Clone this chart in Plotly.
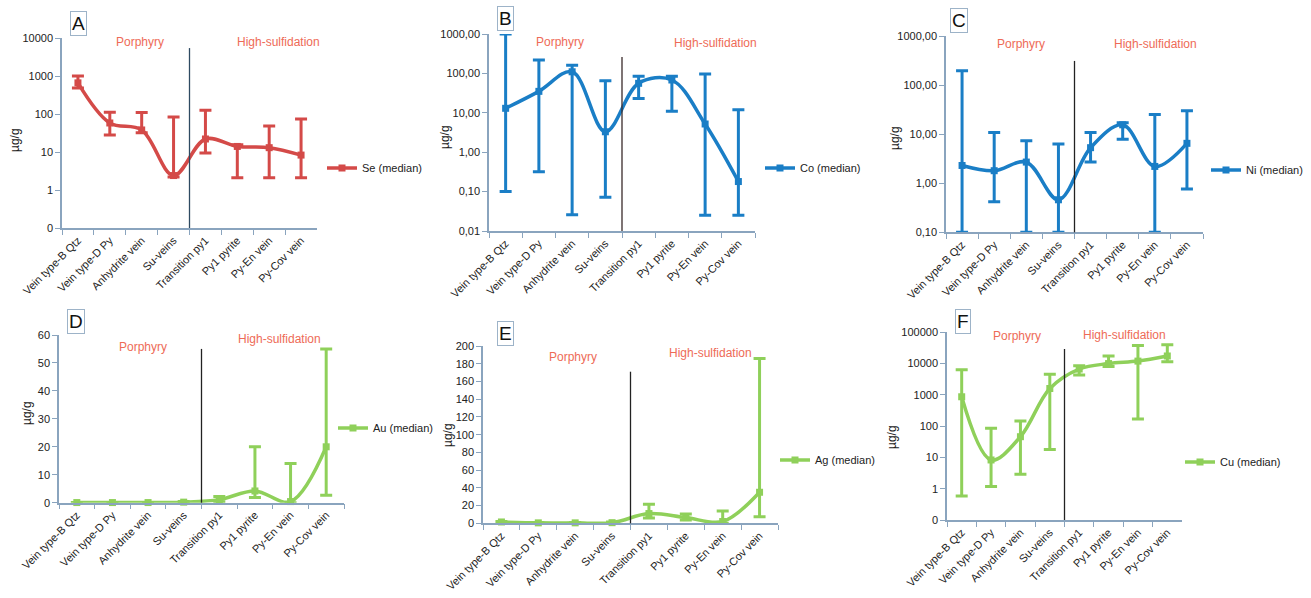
import plotly.graph_objects as go

W, H = 1311, 598

categories = ["Vein type-B Qtz", "Vein type-D Py", "Anhydrite vein", "Su-veins",
              "Transition py1", "Py1 pyrite", "Py-En vein", "Py-Cov vein"]

# Se (panel A)
se_median = [660, 58, 38, 2.4, 22, 14, 13, 8.3]
se_high = [1000, 112, 110, 83, 125, 15.6, 48, 74]
se_low = [480, 28, 32, 2.2, 9.4, 2.1, 2.1, 2.1]

# Co (panel B)
co_median = [13, 35, 110, 3.3, 56, 68, 5.2, 0.18]
co_high = [1000, 220, 160, 65, 85, 85, 96, 12]
co_low = [0.1, 0.32, 0.026, 0.072, 23, 11, 0.025, 0.025]

# Ni (panel C)
ni_median = [2.3, 1.8, 2.7, 0.46, 5.3, 15.5, 2.2, 6.5]
ni_high = [195, 10.8, 7.3, 6.3, 10.8, 17, 25, 30]
ni_low = [0.1, 0.42, 0.1, 0.1, 2.7, 7.9, 0.1, 0.76]

# Au (panel D)
au_median = [0.05, 0.05, 0.05, 0.2, 1.1, 4.2, 0.4, 20]
au_high = [0.1, 0.1, 0.1, 0.4, 2.2, 20, 14, 55]
au_low = [0, 0, 0, 0, 0.3, 1.9, 0, 2.7]

# Ag (panel E)
ag_median = [1.5, 0.5, 0.5, 0.7, 11, 6.5, 2, 35]
ag_high = [2, 1, 1, 1.5, 21.5, 10.5, 14, 186]
ag_low = [0.5, 0.2, 0.2, 0.2, 6, 3.8, 0, 7.5]

# Cu (panel F)
cu_median = [870, 8.3, 46, 1600, 6700, 10000, 12000, 17500]
cu_high = [6300, 85, 146, 4600, 8600, 17500, 38000, 40000]
cu_low = [0.59, 1.17, 2.9, 18, 4300, 8000, 170, 11500]

log_ticks_A = [0.1, 1, 10, 100, 1000, 10000]
log_text_A = ["0", "1", "10", "100", "1000", "10000"]
log_ticks_B = [0.01, 0.1, 1, 10, 100, 1000]
log_text_B = ["0,01", "0,10", "1,00", "10,00", "100,00", "1000,00"]
log_ticks_C = [0.1, 1, 10, 100, 1000]
log_text_C = ["0,10", "1,00", "10,00", "100,00", "1000,00"]
log_ticks_F = [0.1, 1, 10, 100, 1000, 10000, 100000]
log_text_F = ["0", "1", "10", "100", "1000", "10000", "100000"]

RED = "#D44A48"
BLUE = "#1A7EC6"
GREEN = "#8FD05A"
SALMON = "#EE6B57"
AXIS = "#8AA4BE"
FONT = "Liberation Sans"

panels = [
    dict(letter="A", name="Se (median)", med=se_median, hi=se_high, lo=se_low, color=RED,
         px=(62, 317), py=(38, 228), ytype="log", yrange=(-1, 4), tv=log_ticks_A, tt=log_text_A,
         vtop=0.947, vcol="#2E4A62", box=(78, 24), ytitle=(15, 140),
         por=(140, 42), hs=(278, 42), leg=(322, 168)),
    dict(letter="B", name="Co (median)", med=co_median, hi=co_high, lo=co_low, color=BLUE,
         px=(489, 755), py=(34, 231), ytype="log", yrange=(-2, 3), tv=log_ticks_B, tt=log_text_B,
         vtop=0.883, vcol="#3A2A2A", box=(505, 19), ytitle=(445, 137),
         por=(560, 42), hs=(715, 43), leg=(760, 168)),
    dict(letter="C", name="Ni (median)", med=ni_median, hi=ni_high, lo=ni_low, color=BLUE,
         px=(946, 1203), py=(36, 232.3), ytype="log", yrange=(-1, 3), tv=log_ticks_C, tt=log_text_C,
         vtop=0.873, vcol="#222222", box=(959, 21), ytitle=(895, 138),
         por=(1021, 44), hs=(1155, 44), leg=(1206, 170)),
    dict(letter="D", name="Au (median)", med=au_median, hi=au_high, lo=au_low, color=GREEN,
         px=(59, 344), py=(335, 502.7), ytype="linear", yrange=(0, 60), tv=list(range(0, 61, 10)),
         tt=[str(v) for v in range(0, 61, 10)],
         vtop=0.917, vcol="#222222", box=(76, 321), ytitle=(27, 413),
         por=(143, 347), hs=(279, 339), leg=(333, 428)),
    dict(letter="E", name="Ag (median)", med=ag_median, hi=ag_high, lo=ag_low, color=GREEN,
         px=(483, 778), py=(346, 523.3), ytype="linear", yrange=(0, 200), tv=list(range(0, 201, 20)),
         tt=[str(v) for v in range(0, 201, 20)],
         vtop=0.855, vcol="#222222", box=(505, 333), ytitle=(448, 435),
         por=(573, 357), hs=(710, 353), leg=(775, 460)),
    dict(letter="F", name="Cu (median)", med=cu_median, hi=cu_high, lo=cu_low, color=GREEN,
         px=(947, 1182), py=(332.3, 520), ytype="log", yrange=(-1, 5), tv=log_ticks_F, tt=log_text_F,
         vtop=0.911, vcol="#222222", box=(963, 321), ytitle=(892, 437),
         por=(1017, 336), hs=(1124, 335), leg=(1180, 462)),
]

fig = go.Figure()
layout = dict(width=W, height=H, margin=dict(l=0, r=0, t=0, b=0, autoexpand=False),
              plot_bgcolor="white", paper_bgcolor="white", showlegend=True,
              font=dict(family=FONT, size=11, color="#222"))
annotations = []
shapes = []

for i, p in enumerate(panels):
    n = i + 1
    sfx = "" if n == 1 else str(n)
    xa, ya = "x" + sfx, "y" + sfx
    leg = "legend" + sfx
    err_plus = [h - m for h, m in zip(p["hi"], p["med"])]
    err_minus = [m - l for m, l in zip(p["med"], p["lo"])]
    fig.add_trace(go.Scatter(
        x=categories, y=p["med"], xaxis=xa, yaxis=ya, name=p["name"], legend=leg,
        mode="lines+markers", line=dict(color=p["color"], width=3.5, shape="spline", smoothing=1),
        marker=dict(symbol="square", size=7, color=p["color"]),
        error_y=dict(type="data", symmetric=False, array=err_plus, arrayminus=err_minus,
                     color=p["color"], thickness=3, width=6),
        cliponaxis=False,
    ))
    x0, x1 = p["px"]
    y0, y1 = p["py"]
    layout["xaxis" + sfx] = dict(
        domain=[x0 / W, x1 / W], anchor=ya, type="category", range=[-0.5, 7.5],
        showline=True, linecolor=AXIS, linewidth=1.5, ticks="outside", tickcolor=AXIS,
        ticklen=5, tickson="boundaries", tickangle=-45, showgrid=False, zeroline=False,
        automargin=False, tickfont=dict(family=FONT, size=11, color="#222"))
    layout["yaxis" + sfx] = dict(
        domain=[1 - y1 / H, 1 - y0 / H], anchor=xa, type=p["ytype"], range=list(p["yrange"]),
        tickvals=p["tv"], ticktext=p["tt"], showline=True, linecolor=AXIS, linewidth=1.5,
        ticks="outside", tickcolor=AXIS, ticklen=5, showgrid=False, zeroline=False,
        automargin=False, tickfont=dict(family=FONT, size=11, color="#222"))
    layout[leg] = dict(x=p["leg"][0] / W, y=1 - p["leg"][1] / H, xanchor="left", yanchor="middle",
                       bgcolor="rgba(0,0,0,0)", font=dict(family=FONT, size=11, color="#222"))
    shapes.append(dict(type="line", xref=xa, yref=ya + " domain", x0=3.5, x1=3.5, y0=0, y1=p["vtop"],
                       line=dict(color=p["vcol"], width=1.3)))
    annotations.append(dict(text=p["letter"], x=p["box"][0] / W, y=1 - p["box"][1] / H,
                            xref="paper", yref="paper", showarrow=False,
                            font=dict(family=FONT, size=19, color="#111"),
                            bordercolor="#9DB3C8", borderwidth=1, borderpad=1,
                            xanchor="center", yanchor="middle"))
    annotations.append(dict(text="µg/g", x=p["ytitle"][0] / W, y=1 - p["ytitle"][1] / H,
                            xref="paper", yref="paper", showarrow=False, textangle=-90,
                            font=dict(family=FONT, size=12, color="#222"),
                            xanchor="center", yanchor="middle"))
    annotations.append(dict(text="Porphyry", x=p["por"][0] / W, y=1 - p["por"][1] / H,
                            xref="paper", yref="paper", showarrow=False,
                            font=dict(family=FONT, size=12, color=SALMON),
                            xanchor="center", yanchor="middle"))
    annotations.append(dict(text="High-sulfidation", x=p["hs"][0] / W, y=1 - p["hs"][1] / H,
                            xref="paper", yref="paper", showarrow=False,
                            font=dict(family=FONT, size=12, color=SALMON),
                            xanchor="center", yanchor="middle"))

layout["annotations"] = annotations
layout["shapes"] = shapes
fig.update_layout(**layout)
fig.write_html("out.html", config={"displayModeBar": False},
               post_script="document.body.style.margin='0';")
